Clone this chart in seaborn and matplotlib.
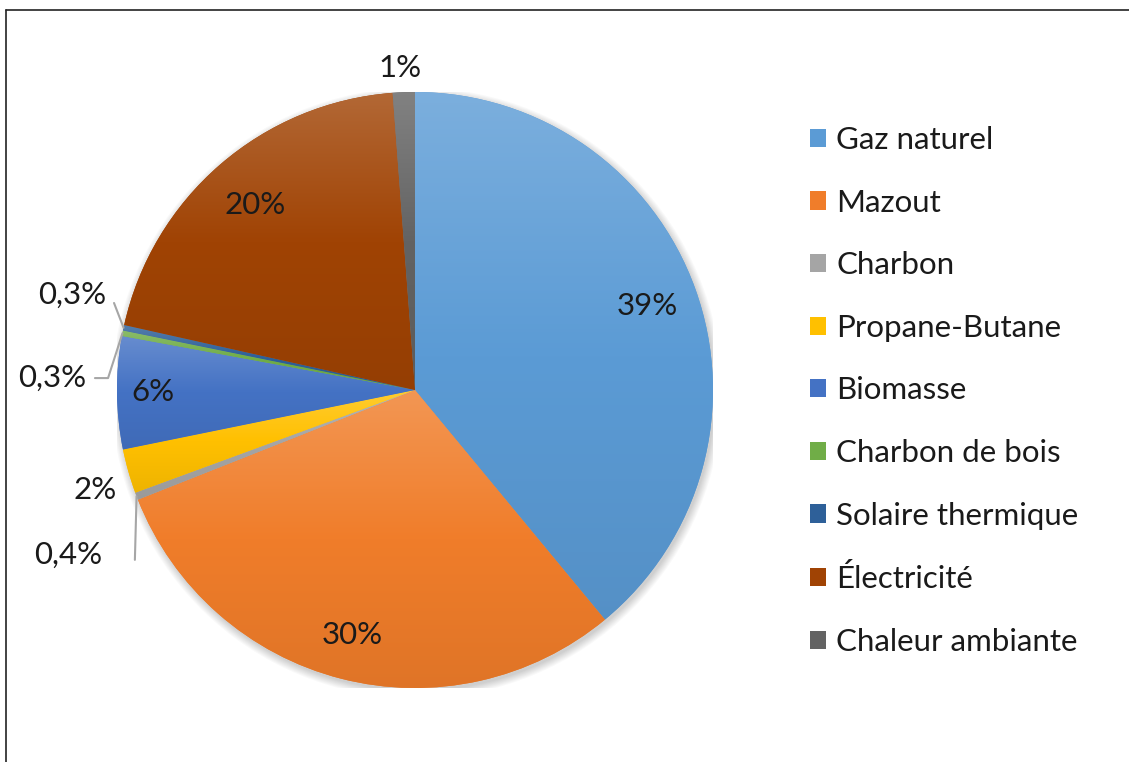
import numpy as np
import matplotlib
matplotlib.use("Agg")
import matplotlib.pyplot as plt
import seaborn as sns
from matplotlib.colors import to_rgb
from matplotlib.lines import Line2D
from matplotlib.patches import Patch, Circle

categories = ["Gaz naturel", "Mazout", "Charbon", "Propane-Butane", "Biomasse",
              "Charbon de bois", "Solaire thermique", "Électricité", "Chaleur ambiante"]
values = [39.0, 30.0, 0.4, 2.4, 6.1, 0.3, 0.3, 20.3, 1.2]
labels = ["39%", "30%", "0,4%", "2%", "6%", "0,3%", "0,3%", "20%", "1%"]
colors = ["#5B9BD5", "#F07D2A", "#A5A5A5", "#FFC000", "#4472C4",
          "#70AD47", "#2E6099", "#A04304", "#636363"]

sns.set_theme(style="white")
plt.rcParams['font.family'] = ['Lato', 'DejaVu Sans']

W, H = 1129, 762
fig = plt.figure(figsize=(W / 100, H / 100), dpi=100)
fig.patch.set_facecolor("white")
cx, cy, R = 415, 390, 298
ax = fig.add_axes([(cx - R) / W, (H - cy - R) / H, 2 * R / W, 2 * R / H])

# soft shadow behind the pie
for k in range(8):
    ax.add_patch(Circle((0.006, -0.010), 1.0 + k * 0.0035, facecolor="black",
                        edgecolor="none", alpha=0.025, zorder=0))

wedges, _ = ax.pie(values, startangle=90, counterclock=False, colors=colors,
                   radius=1, wedgeprops=dict(linewidth=0))

# per-wedge vertical gradient (lighter top, darker bottom), clipped to each wedge
for w, c in zip(wedges, colors):
    c = np.array(to_rgb(c))
    light = c + (1 - c) * 0.2
    dark = c * 0.93
    th = np.deg2rad(np.linspace(w.theta1, w.theta2, 200))
    ys = np.concatenate([np.sin(th), [0.0]])
    xs = np.concatenate([np.cos(th), [0.0]])
    t = np.linspace(0, 1, 256)[:, None, None]
    arr = np.where(t < 0.5, light * (1 - 2 * t) + c * (2 * t),
                   c * (2 - 2 * t) + dark * (2 * t - 1))
    arr = np.repeat(arr, 2, axis=1)
    im = ax.imshow(arr, extent=[xs.min() - 0.01, xs.max() + 0.01, ys.min() - 0.01, ys.max() + 0.01],
                   origin="upper", zorder=w.get_zorder() + 0.1, interpolation="bilinear")
    im.set_clip_path(w)

ax.set_xlim(-1, 1)
ax.set_ylim(-1, 1)
ax.set_aspect("equal")
ax.axis("off")

def mid_point(w, r):
    th = np.deg2rad((w.theta1 + w.theta2) / 2)
    return r * np.cos(th), r * np.sin(th)

fs = 22.5
tc = "#1a1a1a"
# inside labels
inside = {0: 0.83, 1: 0.85, 4: 0.88, 7: 0.82}
for i, r in inside.items():
    x, y = mid_point(wedges[i], r)
    ax.text(x, y, labels[i], ha="center", va="center", fontsize=fs, color=tc)

# outside labels
lc = "#A6A6A6"
outside = {8: (-0.050, 1.081), 6: (-1.151, 0.319), 5: (-1.218, 0.040),
           3: (-1.074, -0.336), 2: (-1.164, -0.554)}
for i, (x, y) in outside.items():
    ax.text(x, y, labels[i], ha="center", va="center", fontsize=fs, color=tc)

# leader lines
ex, ey = mid_point(wedges[6], 1.0)
ax.add_line(Line2D([-1.010, ex], [0.292, ey], color=lc, lw=1.5, clip_on=False))
ex, ey = mid_point(wedges[5], 1.0)
ax.add_line(Line2D([-1.074, -1.030, ex], [0.040, 0.040, ey], color=lc, lw=1.5, clip_on=False))
ex, ey = mid_point(wedges[2], 1.0)
ax.add_line(Line2D([-0.940, ex], [-0.570, ey], color=lc, lw=1.5, clip_on=False))

# legend
handles = [Patch(facecolor=c, edgecolor="none") for c in colors]
leg = fig.legend(handles, categories, loc="upper left",
                 bbox_to_anchor=(810 / W, 1 - 126 / H), frameon=False,
                 fontsize=fs, handlelength=0.52, handleheight=0.52,
                 handletextpad=0.32, labelspacing=1.107, borderpad=0, borderaxespad=0)
for txt in leg.get_texts():
    txt.set_color(tc)

# frame lines
fig.add_artist(Line2D([6 / W, 1], [1 - 10 / H, 1 - 10 / H], transform=fig.transFigure,
                      color="#222222", lw=1.2))
fig.add_artist(Line2D([6 / W, 6 / W], [0, 1 - 10 / H], transform=fig.transFigure,
                      color="#222222", lw=1.2))

fig.savefig("out.png", dpi=100, facecolor="white")
